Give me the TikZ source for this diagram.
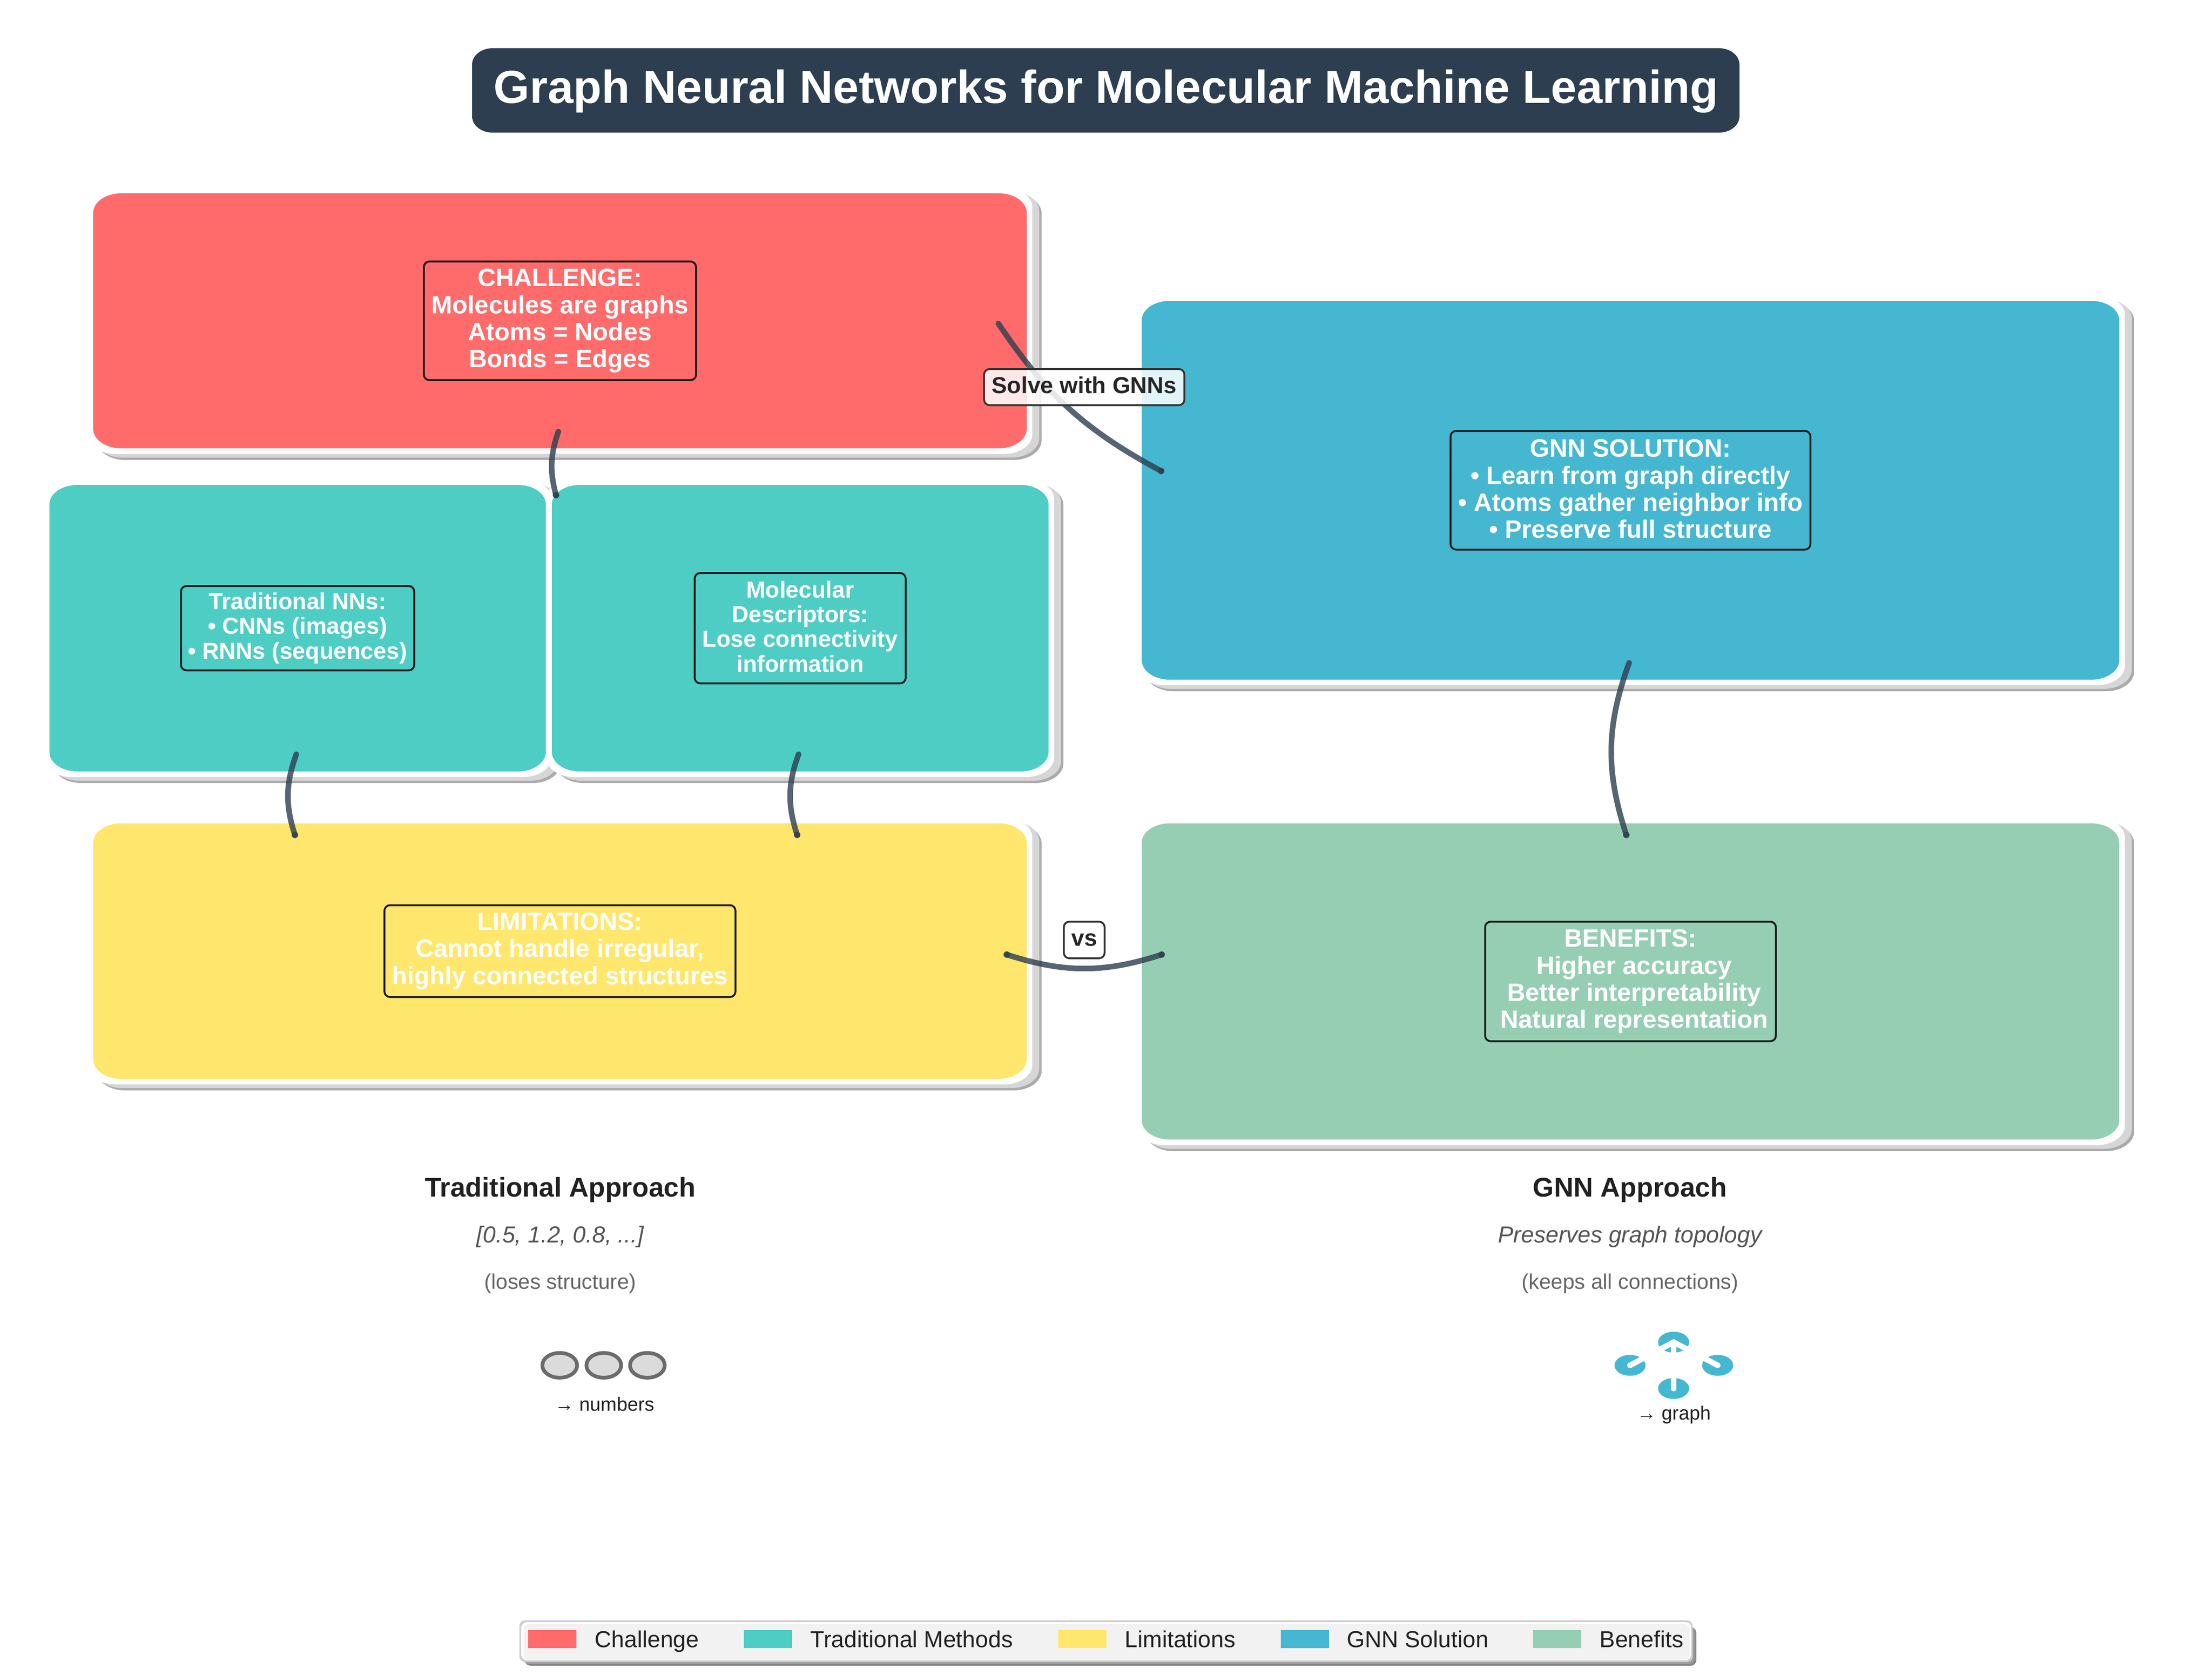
\documentclass[tikz,border=0pt]{standalone}
\usepackage{fontspec}
\setmainfont{Liberation Sans}
\usetikzlibrary{shapes.geometric}

\definecolor{challengeRed}{HTML}{FF6B6B}
\definecolor{tradTeal}{HTML}{4ECDC4}
\definecolor{limitYellow}{HTML}{FFE66D}
\definecolor{gnnBlue}{HTML}{45B7D1}
\definecolor{benefitGreen}{HTML}{96CEB4}
\definecolor{slateDark}{HTML}{2C3E50}

\def\softrx{.6}
\def\softry{.42}

% rectangle with flattened corners
\newcommand{\softrect}[4]{(#1+\softrx,#2) -- (#3-\softrx,#2)
	.. controls (#3-.45*\softrx,#2) and (#3,#2+.45*\softry) .. (#3,#2+\softry) -- (#3,#4-\softry)
	.. controls (#3,#4-.45*\softry) and (#3-.45*\softrx,#4) .. (#3-\softrx,#4) -- (#1+\softrx,#4)
	.. controls (#1+.45*\softrx,#4) and (#1,#4-.45*\softry) .. (#1,#4-\softry) -- (#1,#2+\softry)
	.. controls (#1,#2+.45*\softry) and (#1+.45*\softrx,#2) .. (#1+\softrx,#2) -- cycle}

\newcommand{\softbox}[6]{
	\fill [shadowedge, shift = {(.20,.13)}] \softrect{#2-.12}{#3-.12}{#4+.12}{#5+.12};
	\fill [shadowbody, shift = {(.15,.08)}] \softrect{#2-.12}{#3-.12}{#4+.12}{#5+.12};
	\fill [white] \softrect{#2-.12}{#3-.12}{#4+.12}{#5+.12};
	\fill [#6] \softrect{#2}{#3}{#4}{#5};
	\coordinate (#1) at ({(#2+#4)/2},{(#3+#5)/2});
}

\tikzset{
	shadowedge/.style = {fill = black!33},
	shadowbody/.style = {fill = black!16},
	labelbig/.style = {draw = black!90, line width = .04cm, rounded corners = .12cm, align = center, inner sep = 0,
		text = white, font = \fontsize{15.4}{16.6}\selectfont\bfseries},
	labelsmall/.style = {labelbig, font = \fontsize{14.2}{15.17}\selectfont\bfseries},
	wire/.style = {slateDark, opacity = 0.8, line width = .12cm, line cap = round},
	wiredot/.style = {fill = slateDark, opacity = 0.8},
	edgelabel/.style = {draw = black!80, fill = white, fill opacity = 0.85, text opacity = 1, line width = .04cm,
		rounded corners = .12cm, inner sep = 0, text = black!85, font = \fontsize{14.2}{16}\selectfont\bfseries},
	headline/.style = {anchor = base, text = black!87, font = \fontsize{16.6}{18}\selectfont\bfseries},
	subline/.style = {anchor = base, text = black!67, font = \fontsize{14.2}{16}\selectfont\itshape},
	noteline/.style = {anchor = base, text = black!60, font = \fontsize{13}{14}\selectfont},
	tinyline/.style = {anchor = base, text = black!87, font = \fontsize{11.8}{14}\selectfont},
	legendtext/.style = {anchor = base west, inner sep = 0, text = black!87, font = \fontsize{14.2}{16}\selectfont},
	numcell/.style = {ellipse, draw = black!58, fill = black!14, line width = .08cm, inner sep = 0, outer sep = 0,
		minimum width = .75cm, minimum height = .535cm},
	graphcell/.style = {ellipse, fill = gnnBlue, inner sep = 0, outer sep = 0,
		minimum width = .67cm, minimum height = .45cm},
	graphlink/.style = {white, line width = .12cm, line cap = round}
}

\begin{document}
\begin{tikzpicture}[x = 1cm, y = -1cm]
	\useasboundingbox [fill = white] (0,0) rectangle (47.70,36.13);

	% title
	\begin{scope}
		\def\softrx{.44}
		\def\softry{.35}
		\fill [slateDark] \softrect{10.18}{1.04}{37.51}{2.86};
		\node (title) [anchor = base, text = white, font = \fontsize{28.4}{30}\selectfont\bfseries] at (23.85,2.22)
			{Graph Neural Networks for Molecular Machine Learning};
	\end{scope}

	% boxes
	\softbox{challenge}{2.01}{4.17}{22.14}{9.67}{challengeRed}
	\softbox{traditional}{1.065}{10.46}{11.77}{16.64}{tradTeal}
	\softbox{descriptors}{11.90}{10.46}{22.61}{16.64}{tradTeal}
	\softbox{limitations}{2.01}{17.76}{22.14}{23.27}{limitYellow}
	\softbox{solution}{24.62}{6.49}{45.70}{14.66}{gnnBlue}
	\softbox{benefits}{24.62}{17.76}{45.70}{24.58}{benefitGreen}

	\node (challengeText) [labelbig, minimum width = 5.87cm, minimum height = 2.56cm] at (challenge)
		{CHALLENGE:\\Molecules are graphs\\Atoms = Nodes\\Bonds = Edges};
	\node (traditionalText) [labelsmall, minimum width = 5.03cm, minimum height = 1.82cm] at (traditional)
		{Traditional NNs:\\• CNNs (images)\\• RNNs (sequences)};
	\node (descriptorsText) [labelsmall, minimum width = 4.55cm, minimum height = 2.38cm] at (descriptors)
		{Molecular\\Descriptors:\\Lose connectivity\\information\rule[-.16em]{0pt}{0pt}};
	\node (limitationsText) [labelbig, minimum width = 7.57cm, minimum height = 1.98cm] at (limitations)
		{LIMITATIONS:\\Cannot handle irregular,\\highly connected structures};
	\node (solutionText) [labelbig, minimum width = 7.76cm, minimum height = 2.56cm] at (solution)
		{GNN SOLUTION:\\• Learn from graph directly\\• Atoms gather neighbor info\\• Preserve full structure\rule[-.12em]{0pt}{0pt}};
	\node (benefitsText) [labelbig, minimum width = 6.27cm, minimum height = 2.58cm] at (benefits)
		{BENEFITS:\\\hspace*{.16cm}Higher accuracy\\\hspace*{.16cm}Better interpretability\\\hspace*{.16cm}Natural representation};

	% connectors
	\coordinate (challengeRight) at (21.53,6.98);
	\coordinate (solutionLeft) at (25.04,10.16);
	\coordinate (challengeLow) at (12.04,9.31);
	\coordinate (descriptorsTop) at (11.99,10.68);
	\coordinate (traditionalLow) at (6.39,16.27);
	\coordinate (limitationsLeft) at (6.36,18.01);
	\coordinate (descriptorsLow) at (17.22,16.27);
	\coordinate (limitationsMid) at (17.19,18.01);
	\coordinate (solutionLow) at (35.13,14.30);
	\coordinate (benefitsTop) at (35.07,18.01);
	\coordinate (limitationsRight) at (21.71,20.59);
	\coordinate (benefitsLeft) at (25.05,20.59);

	\draw [wire] (challengeRight) to [bend right = 14] (solutionLeft);
	\draw [wire] (challengeLow) to [bend right = 17] (descriptorsTop);
	\draw [wire] (traditionalLow) to [bend right = 19] (limitationsLeft);
	\draw [wire] (descriptorsLow) to [bend right = 19] (limitationsMid);
	\draw [wire] (solutionLow) to [bend right = 19] (benefitsTop);
	\draw [wire] (limitationsRight) to [bend right = 18] (benefitsLeft);

	\foreach \wireend in {solutionLeft, descriptorsTop, limitationsLeft, limitationsMid, benefitsTop, limitationsRight, benefitsLeft} {
		\fill [wiredot] (\wireend) circle (.07);
	}

	\node (solveTag) [edgelabel, minimum width = 4.32cm, minimum height = .78cm] at (23.38,8.35) {Solve with GNNs\rule[-.2em]{0pt}{0pt}};
	\node (vsTag) [edgelabel, minimum width = .88cm, minimum height = .79cm] at (23.38,20.275) {vs};

	% traditional column
	\node (tradHead) [headline] at (12.08,25.81) {Traditional Approach};
	\node (tradVector) [subline] at (12.08,26.80) {[0.5, 1.2, 0.8, ...]};
	\node (tradNote) [noteline] at (12.08,27.80) {(loses structure)};
	\node (cellA) [numcell] at (12.07,29.45) {};
	\node (cellB) [numcell] at (13.02,29.45) {};
	\node (cellC) [numcell] at (13.96,29.45) {};
	\node (numbersNote) [tinyline] at (13.04,30.43) {→ numbers};

	% gnn column
	\node (gnnHead) [headline] at (35.15,25.81) {GNN Approach};
	\node (gnnTopology) [subline] at (35.15,26.80) {Preserves graph topology};
	\node (gnnNote) [noteline] at (35.15,27.80) {(keeps all connections)};
	\node (graphTop) [graphcell] at (36.09,28.95) {};
	\node (graphLeft) [graphcell] at (35.15,29.45) {};
	\node (graphRight) [graphcell] at (37.04,29.45) {};
	\node (graphLow) [graphcell] at (36.09,29.95) {};
	\draw [graphlink] (graphLeft.center) -- (graphTop.center);
	\draw [graphlink] (graphRight.center) -- (graphTop.center);
	\draw [graphlink] (graphLow.center) -- (graphTop.center);
	\node (graphNote) [tinyline] at (36.10,30.62) {→ graph};

	% legend
	\begin{scope}
		\def\softrx{.12}
		\def\softry{.12}
		\fill [black!47] \softrect{11.32}{35.10}{36.58}{35.93};
		\fill [black!38] \softrect{11.28}{35.06}{36.54}{35.89};
		\fill [black!19] \softrect{11.20}{34.95}{36.50}{35.85};
		\fill [white] \softrect{11.24}{34.99}{36.47}{35.81};
		\fill [black!5] \softrect{11.29}{35.03}{36.44}{35.81};
	\end{scope}
	\foreach \swatchx/\textx/\swatchcol/\legendname/\legendlabel in {
		11.39/12.82/challengeRed/Challenge/Challenge,
		16.04/17.47/tradTeal/Traditional/Traditional Methods,
		22.82/24.25/limitYellow/Limitations/Limitations,
		27.62/29.04/gnnBlue/Solution/GNN Solution,
		33.06/34.49/benefitGreen/Benefits/Benefits} {
		\fill [\swatchcol] (\swatchx,35.16) rectangle (\swatchx+1.04,35.55);
		\node (legend\legendname) [legendtext] at (\textx,35.53) {\legendlabel};
	}
\end{tikzpicture}
\end{document}
